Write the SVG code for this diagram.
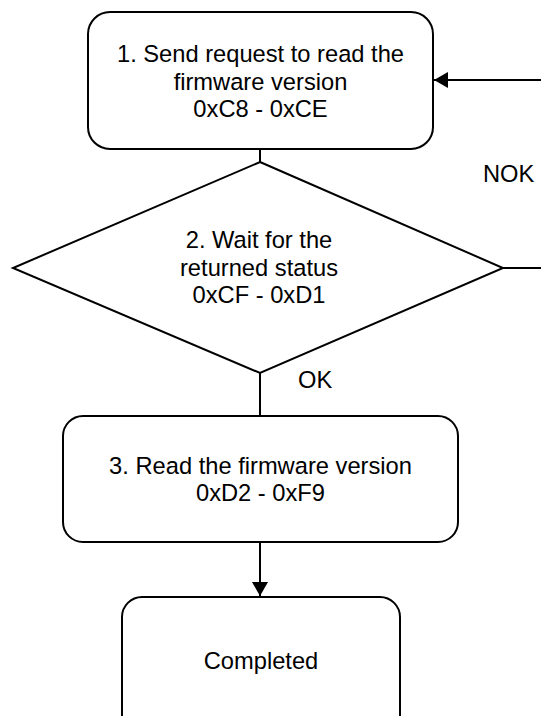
<svg xmlns="http://www.w3.org/2000/svg" width="541" height="716" viewBox="0 0 541 716">
<style>
.shape{fill:#fff;stroke:#000;stroke-width:2}
.line{fill:none;stroke:#000;stroke-width:2}
text{font-family:"Liberation Sans",Arial,sans-serif;font-size:23.7px;fill:#000;text-anchor:middle}
.lbl{text-anchor:start}
</style>
<defs>
<marker id="arr" markerWidth="8" markerHeight="8" refX="7" refY="4" orient="auto" markerUnits="strokeWidth">
<path d="M0,0 L7,4 L0,8 Z" fill="#000"/>
</marker>
</defs>
<g id="connectors">
<line class="line" x1="260" y1="149" x2="260" y2="162"/>
<line class="line" x1="260" y1="373" x2="260" y2="416"/>
<line class="line" x1="260" y1="542" x2="260" y2="596" marker-end="url(#arr)"/>
<line class="line" x1="503" y1="268" x2="541" y2="268"/>
<line class="line" x1="541" y1="80" x2="434" y2="80" marker-end="url(#arr)"/>
<text class="lbl" x="298" y="388">OK</text>
<text class="lbl" x="483" y="182">NOK</text>
</g>
<g id="n1">
<rect class="shape" x="88" y="12" width="345" height="137" rx="22" ry="22"/>
<text x="260.5" y="62">1. Send request to read the</text>
<text x="260.5" y="89.5">firmware version</text>
<text x="260.5" y="117">0xC8 - 0xCE</text>
</g>
<g id="n2">
<polygon class="shape" points="260,162 503,268 260,373 13,268"/>
<text x="259" y="248">2. Wait for the</text>
<text x="259" y="275.5">returned status</text>
<text x="259" y="303">0xCF - 0xD1</text>
</g>
<g id="n3">
<rect class="shape" x="63" y="416" width="395" height="126" rx="20" ry="20"/>
<text x="260.5" y="474">3. Read the firmware version</text>
<text x="260.5" y="501">0xD2 - 0xF9</text>
</g>
<g id="n4">
<rect class="shape" x="122" y="597" width="278" height="140" rx="20" ry="20"/>
<text x="261" y="669">Completed</text>
</g>
</svg>
